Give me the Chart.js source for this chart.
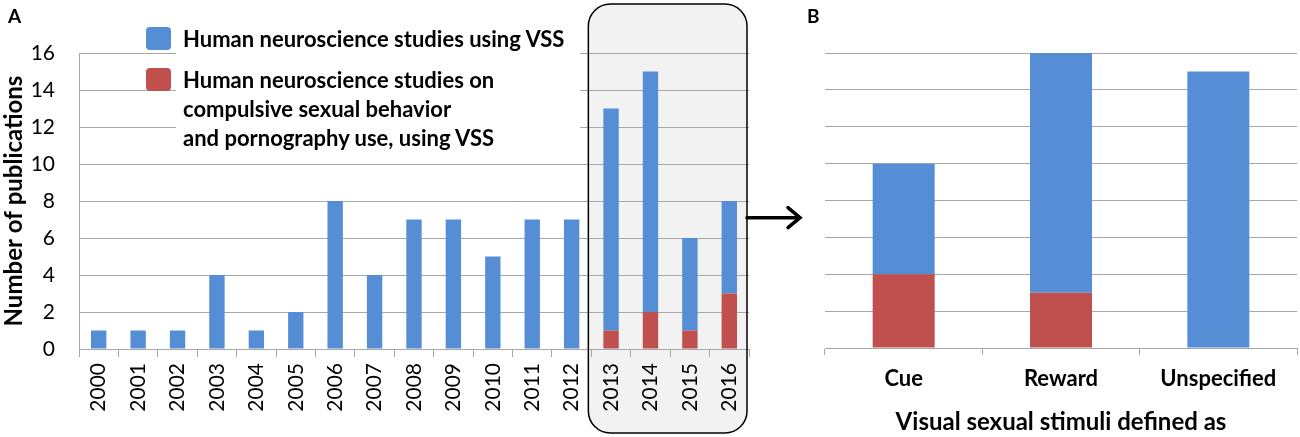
<!DOCTYPE html>
<html lang="en">
<head>
  <meta charset="UTF-8">
  <title>VSS publications</title>
  <script src="https://cdn.jsdelivr.net/npm/chart.js"></script>
  <style>
    body {
      margin: 0;
      background: #fff;
      font-family: 'Lato', sans-serif;
      color: #000;
    }
    .wrap {
      position: relative;
      width: 1300px;
      height: 437px;
      overflow: hidden;
    }
    canvas {
      position: absolute;
      top: 0;
    }
    #chartA { left: 0; }
    #chartB { left: 780px; }
    .panel {
      position: absolute;
      font-weight: bold;
      font-size: 19px;
      top: 4px;
    }
    .legend {
      position: absolute;
      left: 176px;
      top: 24px;
      width: 404px;
      height: 128px;
      background: #fff;
      font-weight: bold;
      font-size: 22px;
    }
    .legend .item {
      position: relative;
      padding-left: 7px;
      line-height: 29px;
    }
    .legend .swatch {
      position: absolute;
      left: -30px;
      top: 3px;
      width: 25px;
      height: 23px;
      border-radius: 4px;
    }
  </style>
</head>
<body>
<div class="wrap">
  <canvas id="chartA" width="810" height="437"></canvas>
  <canvas id="chartB" width="520" height="437"></canvas>
  <div class="panel" style="left:8px">A</div>
  <div class="panel" style="left:807px">B</div>
  <div class="legend">
    <div class="item"><span class="swatch" style="background:#558ed5"></span>Human neuroscience studies using VSS</div>
    <div class="item" style="margin-top:12px"><span class="swatch" style="background:#c0504d"></span>Human neuroscience studies on<br>compulsive sexual behavior<br>and pornography use, using VSS</div>
  </div>
</div>

<script>
  const years = ["2000", "2001", "2002", "2003", "2004", "2005", "2006", "2007", "2008",
                 "2009", "2010", "2011", "2012", "2013", "2014", "2015", "2016"];
  const vssOther = [1, 1, 1, 4, 1, 2, 8, 4, 7, 7, 5, 7, 7, 12, 13, 5, 5];
  const vssCsb   = [0, 0, 0, 0, 0, 0, 0, 0, 0, 0, 0, 0, 0, 1, 2, 1, 3];

  const stimuli = ["Cue", "Reward", "Unspecified"];
  const stimOther = [6, 13, 15];
  const stimCsb   = [4, 3, 0];

  const yTicks = [0, 2, 4, 6, 8, 10, 12, 14, 16];

  const BLUE = "#558ed5";
  const RED = "#c0504d";
  const GRID = "#a8a8a8";
  const FONT = "Lato";

  // shaded rounded box around 2013-2016 plus the arrow
  const highlight = {
    id: "highlight",
    beforeDraw(chart) {
      const ctx = chart.ctx, x = chart.scales.x;
      const l = x.getPixelForValue(12.5) - 3, r = x.getPixelForValue(16.5) - 2;
      ctx.save();
      ctx.beginPath();
      ctx.roundRect(l, 4, r - l, 429, 22);
      ctx.fillStyle = "#f2f2f2";
      ctx.fill();
      ctx.restore();
    },
    afterDraw(chart) {
      const ctx = chart.ctx, x = chart.scales.x, y = chart.scales.y;
      const l = x.getPixelForValue(12.5) - 3, r = x.getPixelForValue(16.5) - 2;
      ctx.save();
      ctx.beginPath();
      ctx.roundRect(l, 4, r - l, 429, 22);
      ctx.strokeStyle = "#000";
      ctx.lineWidth = 1.5;
      ctx.stroke();
      const ay = y.getPixelForValue(7.1);
      ctx.lineWidth = 3.5;
      ctx.lineCap = "round";
      ctx.lineJoin = "miter";
      ctx.beginPath();
      ctx.moveTo(r, ay);
      ctx.lineTo(r + 52, ay);
      ctx.stroke();
      ctx.beginPath();
      ctx.moveTo(r + 41, ay - 10);
      ctx.lineTo(r + 53, ay);
      ctx.lineTo(r + 41, ay + 10);
      ctx.stroke();
      ctx.restore();
    }
  };

  function yAxis(showLabels) {
    return {
      stacked: true,
      min: 0,
      max: 16,
      afterBuildTicks: s => { s.ticks = yTicks.map(v => ({ value: v })); },
      afterFit: s => { s.width = showLabels ? 79 : 0; },
      grid: { color: GRID, lineWidth: 1, drawTicks: false },
      border: { display: showLabels, color: GRID },
      ticks: {
        display: showLabels,
        color: "#000",
        padding: 24,
        font: { family: FONT, size: 21 }
      },
      title: {
        display: showLabels,
        text: "Number of publications",
        color: "#000",
        padding: { top: 0, bottom: 0 },
        font: { family: FONT, size: 24, weight: "bold" }
      }
    };
  }

  new Chart(document.getElementById("chartA"), {
    type: "bar",
    data: {
      labels: years,
      datasets: [
        { label: "Human neuroscience studies on compulsive sexual behavior and pornography use, using VSS",
          data: vssCsb, backgroundColor: RED },
        { label: "Human neuroscience studies using VSS",
          data: vssOther, backgroundColor: BLUE }
      ]
    },
    options: {
      responsive: false,
      animation: false,
      layout: { padding: { top: 53, right: 61, left: 0, bottom: 0 } },
      datasets: { bar: { categoryPercentage: 1, barPercentage: 0.39 } },
      plugins: { legend: { display: false }, tooltip: { enabled: false } },
      scales: {
        x: {
          stacked: true,
          afterFit: s => { s.height = 88; },
          grid: { offset: true, drawOnChartArea: false, tickLength: 8, color: GRID },
          border: { color: GRID },
          ticks: {
            color: "#000",
            minRotation: 90,
            maxRotation: 90,
            padding: 6,
            font: { family: FONT, size: 21 }
          }
        },
        y: yAxis(true)
      }
    },
    plugins: [highlight]
  });

  new Chart(document.getElementById("chartB"), {
    type: "bar",
    data: {
      labels: stimuli,
      datasets: [
        { label: "Human neuroscience studies on compulsive sexual behavior and pornography use, using VSS",
          data: stimCsb, backgroundColor: RED },
        { label: "Human neuroscience studies using VSS",
          data: stimOther, backgroundColor: BLUE }
      ]
    },
    options: {
      responsive: false,
      animation: false,
      layout: { padding: { top: 53, right: 3, left: 45, bottom: 0 } },
      datasets: { bar: { categoryPercentage: 1, barPercentage: 0.394 } },
      plugins: { legend: { display: false }, tooltip: { enabled: false } },
      scales: {
        x: {
          stacked: true,
          afterFit: s => { s.height = 89; },
          grid: { offset: true, drawOnChartArea: false, tickLength: 7, color: GRID },
          border: { color: GRID },
          ticks: {
            color: "#000",
            maxRotation: 0,
            padding: 11,
            font: { family: FONT, size: 22, weight: "bold" }
          },
          title: {
            display: true,
            text: "Visual sexual stimuli defined as",
            color: "#000",
            padding: { top: 0, bottom: 0 },
            font: { family: FONT, size: 24, weight: "bold" }
          }
        },
        y: yAxis(false)
      }
    }
  });
</script>
</body>
</html>
